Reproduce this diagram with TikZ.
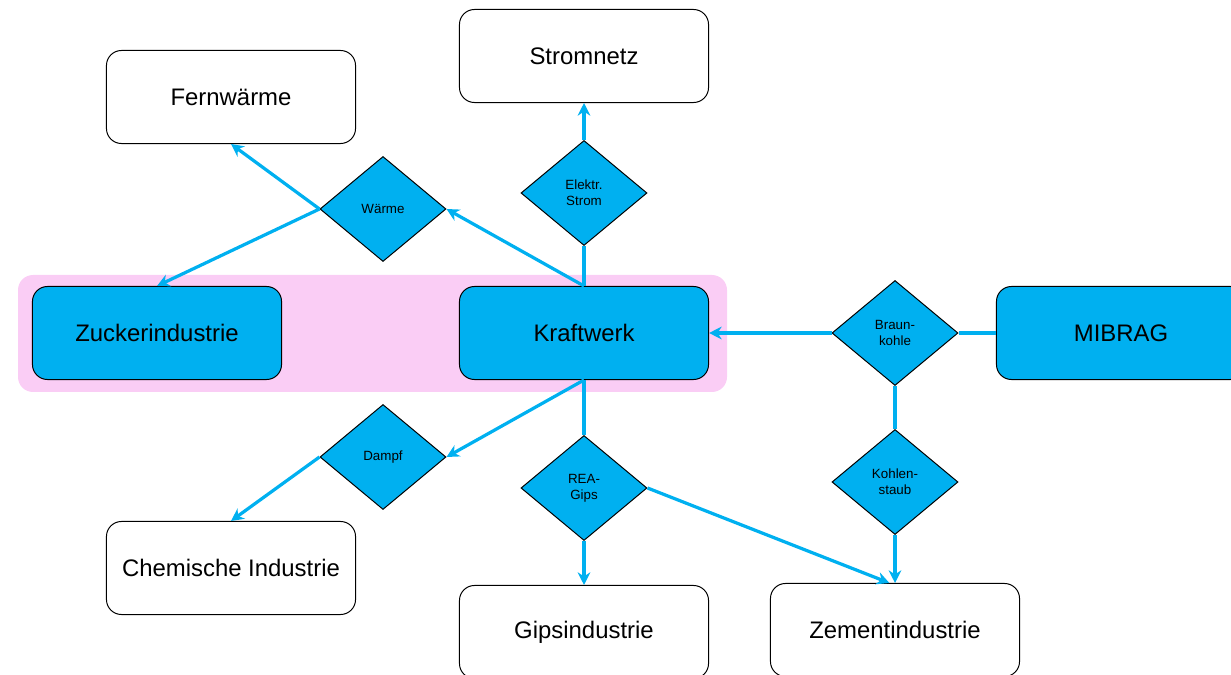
\documentclass[tikz,border=0pt]{standalone}
\usepackage{fontspec}
\setmainfont{Liberation Sans}
\usetikzlibrary{shapes.geometric,arrows.meta}
\definecolor{flowblue}{RGB}{0,176,240}
\definecolor{bandpink}{RGB}{250,205,245}
\tikzset{
  box/.style={draw=black,line width=0.7pt,rounded corners=0.375cm,minimum width=6.225cm,minimum height=2.325cm,font=\fontsize{17}{20}\selectfont},
  unit/.style={box,fill=flowblue},
  good/.style={diamond,draw=black,line width=0.7pt,fill=flowblue,minimum width=3.15cm,minimum height=2.625cm,inner sep=0pt,align=center,font=\fontsize{9.5}{11.4}\selectfont},
  link/.style={draw=flowblue,line width=2.3pt},
  feed/.style={link,-{Stealth[length=9pt,width=9pt]}}
}

\begin{document}
\begin{tikzpicture}[x=0.025cm,y=-0.025cm]
\useasboundingbox (0,0) rectangle (1231,675);
\fill[bandpink,rounded corners=0.375cm] (18,275) rectangle (727,392);

\node[box]  (fern)   at (231,97)  {Fernwärme};
\node[box]  (strom)  at (584,56)  {Stromnetz};
\node[unit] (zucker) at (157,333) {Zuckerindustrie};
\node[unit] (kw)     at (584,333) {Kraftwerk};
\node[unit] (mibrag) at (1121,333) {MIBRAG};
\node[box]  (chem)   at (231,568) {Chemische Industrie};
\node[box]  (gips)   at (584,632) {Gipsindustrie};
\node[box]  (zement) at (895,630) {Zementindustrie};

\node[good] (waerme) at (383,209) {Wärme};
\node[good] (elektr) at (584,193) {Elektr.\\Strom};
\node[good] (braun)  at (895,333) {Braun-\\kohle};
\node[good] (staub)  at (895,482) {Kohlen-\\staub};
\node[good] (dampf)  at (383,457) {Dampf};
\node[good] (rea)    at (584,488) {REA-\\Gips};

% Kraftwerk nach oben
\draw[link] (kw.north) -- (elektr.south);
\draw[feed] (elektr.north) -- (strom.south);
\draw[feed] (kw.north) -- (waerme.east);
\draw[feed] (waerme.west) -- (fern.south);
\draw[feed] (waerme.west) -- (zucker.north);

% Kohle
\draw[link] (mibrag.west) -- (braun.east);
\draw[feed] (braun.west) -- (kw.east);
\draw[link] (braun.south) -- (staub.north);
\draw[feed] (staub.south) -- (zement.north);

% Kraftwerk nach unten
\draw[link] (kw.south) -- (rea.north);
\draw[feed] (rea.south) -- (gips.north);
\draw[feed] (rea.east) -- ([xshift=-4]zement.north);
\draw[feed] (kw.south) -- (dampf.east);
\draw[feed] (dampf.west) -- (chem.north);
\end{tikzpicture}
\end{document}
